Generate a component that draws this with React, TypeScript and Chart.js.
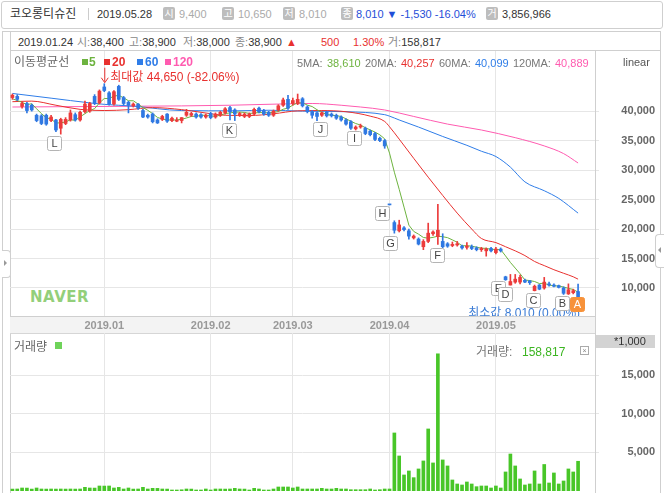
import React, { useEffect, useRef } from 'react';
import { Chart, registerables } from 'chart.js';
Chart.register(...registerables);

// ---------- data ----------
const decDays = [3, 4, 5, 6, 7, 10, 11, 12, 13, 14, 17, 18, 19, 20, 21, 24, 26, 27, 28];
const janDays = [2, 3, 4, 7, 8, 9, 10, 11, 14, 15, 16, 17, 18, 21, 22, 23, 24, 25, 28, 29, 30, 31];
const febDays = [1, 7, 8, 11, 12, 13, 14, 15, 18, 19, 20, 21, 22, 25, 26, 27, 28];
const marDays = [4, 5, 6, 7, 8, 11, 12, 13, 14, 15, 18, 19, 20, 21, 22, 25, 26, 27, 28, 29];
const aprDays = [1, 2, 3, 4, 5, 8, 9, 10, 11, 12, 15, 16, 17, 18, 19, 22, 23, 24, 25, 26, 29, 30];
const mayDays = [2, 3, 7, 8, 9, 10, 13, 14, 15, 16, 17, 20, 21, 22, 23, 24, 27, 28];

const opens = [
  42300, 42500, 40800, 41300, 41000, 39300, 39200, 39300, 38400, 38500,
  37100, 37900, 38500, 39400, 38500, 39900, 40000, 42500, 41400, 44100,
  43100, 41200, 44200, 42300, 41500, 40900, 41200, 40100, 39300, 39500,
  38500, 38600, 39500, 38400, 38300, 38400, 39300, 39300, 39500, 39400,
  39000, 39600, 39000, 39300, 39700, 40600, 40200, 39300, 39100, 39100,
  39500, 40500, 40100, 39800, 39300, 40200, 41000, 42000, 41300, 41300,
  42100, 40700, 39900, 39700, 39300, 39800, 39500, 39300, 39000, 38500,
  38200, 37000, 37300, 37100, 36600, 36200, 35400, 35000, 24150, 21100,
  19700, 20200, 19700, 18500, 18300, 17000, 17900, 19200, 18700, 17900,
  17500, 17200, 17300, 17100, 16900, 17000, 16800, 16500, 16300, 16700,
  16000, 16600, 11900, 10500, 11000, 11000, 11300, 11200, 9550, 10500,
  10000, 10700, 10500, 10400, 10000, 9000, 9200, 9400,
];
const highs = [
  42900, 42800, 41600, 41500, 41200, 39500, 39400, 39500, 39300, 38600,
  38800, 38900, 40200, 39700, 40000, 41700, 41500, 42800, 43600, 44650,
  43300, 43500, 44400, 42500, 41700, 41400, 41300, 40300, 39500, 39700,
  38700, 39300, 39600, 39000, 38900, 38900, 40300, 39800, 39700, 39600,
  39500, 39800, 39700, 40000, 40600, 40800, 40400, 39800, 39700, 39700,
  40500, 40700, 40300, 40000, 40200, 41100, 42200, 42700, 42200, 42900,
  42300, 40900, 40100, 39900, 39900, 40000, 39700, 39500, 39200, 38700,
  38400, 37500, 37800, 37300, 36800, 36400, 35600, 35200, 24150, 21400,
  21500, 20400, 20000, 19000, 18500, 18200, 21000, 19700, 24200, 19200,
  17700, 17800, 17900, 17300, 17700, 17300, 17000, 16900, 16800, 16900,
  16900, 16800, 12000, 12300, 12300, 12200, 11500, 11300, 10500, 10600,
  11800, 11000, 10700, 10500, 10200, 10700, 9800, 10650,
];
const lows = [
  42000, 41800, 40500, 39700, 40000, 38200, 37700, 37600, 38200, 36500,
  36100, 37700, 38300, 38300, 38300, 39700, 39800, 41100, 41200, 43300,
  41000, 41000, 41800, 41100, 39700, 40700, 40300, 38900, 38800, 38000,
  37900, 38400, 38100, 38200, 38200, 38000, 39100, 39100, 38800, 38800,
  38800, 38700, 38800, 39100, 39500, 38500, 38400, 39100, 38900, 38900,
  39300, 39700, 39300, 39100, 39100, 40000, 40800, 40300, 41000, 41100,
  40700, 39700, 38800, 38400, 39100, 39000, 39000, 38600, 38300, 37600,
  36900, 36800, 37100, 36000, 35800, 35000, 34800, 33700, 24100, 19300,
  19500, 19700, 18300, 18300, 17300, 16500, 17700, 18900, 17400, 16800,
  16900, 17000, 17100, 16600, 16600, 16500, 16300, 16200, 15400, 16100,
  15800, 16100, 11300, 10500, 10800, 10700, 10900, 10600, 9500, 9700,
  9800, 10300, 10200, 10000, 8900, 8900, 9000, 8010,
];
const closes = [
  42700, 42000, 41300, 40100, 40200, 38400, 37900, 37800, 39000, 36800,
  38600, 38600, 39700, 38500, 39800, 41200, 41300, 41300, 43400, 43500,
  41200, 43300, 42000, 41300, 41000, 41200, 40500, 39000, 39000, 38200,
  38000, 39100, 38300, 38800, 38400, 38900, 39800, 39600, 39000, 39000,
  39300, 38900, 39500, 39800, 40400, 39900, 39500, 39600, 39500, 39500,
  40300, 39900, 39500, 39300, 40000, 40900, 41900, 40500, 41800, 42000,
  40900, 39900, 39300, 39100, 39700, 39200, 39200, 38800, 38500, 37800,
  37100, 37300, 37500, 36200, 36000, 35200, 35000, 34100, 24100, 19800,
  20700, 19900, 18800, 18800, 17450, 17900, 19300, 19500, 19800, 17000,
  17100, 17400, 17500, 16800, 17100, 16700, 16500, 16700, 16600, 16300,
  16600, 16300, 11400, 11100, 11500, 11800, 11000, 10900, 10300, 9800,
  11000, 10500, 10300, 10100, 9100, 9700, 9540, 8010,
];
// volume, thousands of shares
const volumes = [
  250, 260, 390, 380, 250, 390, 260, 250, 260, 250,
  260, 250, 260, 250, 260, 480, 390, 380, 650, 640,
  650, 390, 470, 260, 390, 250, 260, 480, 260, 350,
  340, 260, 250, 130, 130, 159, 260, 250, 130, 130,
  260, 130, 260, 260, 250, 260, 350, 260, 250, 130,
  350, 260, 130, 130, 260, 520, 520, 520, 390, 520,
  260, 260, 260, 260, 350, 260, 260, 350, 260, 260,
  170, 170, 170, 170, 260, 130, 170, 260, 260, 7530,
  4545, 2080, 2600, 1730, 2860, 3900, 8050, 3640, 17800, 4030,
  3250, 1430, 910, 780, 1170, 910, 560, 650, 650, 390,
  650, 390, 2470, 4800, 3250, 1560, 780, 910, 2600, 910,
  3440, 1040, 2340, 910, 1300, 2860, 2470, 3857,
];
const ma5 = [
  42100, 41800, 41500, 41100, 41260, 40400, 39580, 38880, 38660, 37980,
  38020, 38160, 38540, 38440, 39040, 39560, 40100, 40420, 41400, 42140,
  42140, 42540, 42680, 42260, 41760, 41760, 41200, 40600, 40140, 39580,
  38940, 38660, 38520, 38480, 38520, 38610, 38840, 39100, 39140, 39260,
  39340, 39160, 39140, 39300, 39580, 39700, 39820, 39840, 39780, 39600,
  39680, 39760, 39740, 39700, 39800, 39920, 40320, 40520, 41020, 41420,
  41420, 41020, 40780, 40240, 39780, 39440, 39300, 39240, 39080, 38700,
  38280, 37900, 37640, 37180, 36820, 36440, 35980, 35300, 32880, 29640,
  26740, 23720, 20660, 19600, 19130, 18570, 18450, 18590, 18790, 18700,
  18540, 18160, 17760, 17160, 17180, 17100, 16920, 16760, 16720, 16560,
  16540, 16500, 15440, 14340, 13380, 12420, 11360, 11260, 11100, 10760,
  10800, 10500, 10380, 10340, 10160, 9940, 9750, 9290,
];
// [candle index, value]
const ma20Pts = [
  [0, 41600], [4, 41700], [9, 41000], [14, 40300], [19, 40100], [24, 40250], [29, 40600],
  [35, 40257], [39, 39800], [44, 39300], [49, 39250], [54, 39550], [59, 40050], [64, 40100],
  [69, 39900], [74, 39150], [77, 38250], [78, 37350], [80, 35250], [83, 32000], [86, 28800],
  [89, 25700], [92, 22700], [95, 20000], [97, 18400], [100, 17700], [102, 17000], [104, 16300],
  [106, 15500], [108, 14500], [110, 13800], [112, 13100], [114, 12500], [116, 11900], [117, 11500],
];
const ma60Pts = [
  [0, 43000], [8, 42200], [16, 41400], [19, 41150], [25, 40850], [35, 40099], [46, 40050],
  [53, 40150], [60, 40000], [69, 39900], [77, 39400], [78, 39150], [80, 38500], [84, 37300],
  [89, 35700], [94, 34200], [97, 33200], [100, 32300], [103, 30500], [106, 28000],
  [110, 26500], [113, 25200], [117, 22700],
];
const ma120Pts = [
  [0, 40700], [10, 40750], [20, 40800], [35, 40889], [45, 41000], [55, 41200], [62, 41300],
  [68, 41000], [72, 40700], [77, 40200], [83, 39100], [90, 37800], [97, 36800], [104, 35500],
  [110, 34100], [114, 32800], [117, 31200],
];
const priceTicks = [10000, 15000, 20000, 25000, 30000, 35000, 40000];
const volumeTicks = [5000, 10000, 15000];
const markers = [
  { label: 'L', index: 8.6, price: 34600 },
  { label: 'K', index: 44.8, price: 36780 },
  { label: 'J', index: 63.6, price: 36950 },
  { label: 'I', index: 70.6, price: 35420 },
  { label: 'H', index: 76.4, price: 22710 },
  { label: 'G', index: 78, price: 17630 },
  { label: 'F', index: 87.8, price: 15590 },
  { label: 'E', index: 100.4, price: 9950 },
  { label: 'D', index: 101.8, price: 8900 },
  { label: 'C', index: 107.7, price: 7970 },
  { label: 'B', index: 113.7, price: 7460 },
  { label: 'A', index: 116.8, price: 7370, active: true },
];
const maxIndex = 19;
const maxPrice = 44650;
const minIndex = 117;
const minPrice = 8010;
const emptySlots = 3;

// ---------- derived ----------
const pad2 = (n: number) => (n < 10 ? '0' + n : '' + n);
const dates: string[] = [
  ...decDays.map((d) => `2018.12.${pad2(d)}`),
  ...janDays.map((d) => `2019.01.${pad2(d)}`),
  ...febDays.map((d) => `2019.02.${pad2(d)}`),
  ...marDays.map((d) => `2019.03.${pad2(d)}`),
  ...aprDays.map((d) => `2019.04.${pad2(d)}`),
  ...mayDays.map((d) => `2019.05.${pad2(d)}`),
];
const labels = [...dates, ...Array.from({ length: emptySlots }, (_, k) => ' '.repeat(k + 1))];
const monthLabel = (i: number) =>
  i > 0 && i < dates.length && dates[i].slice(0, 7) !== dates[i - 1].slice(0, 7) ? dates[i].slice(0, 7) : '';
const sparse = (pts: number[][]) => {
  const arr: (number | null)[] = dates.map(() => null);
  pts.forEach(([i, v]) => (arr[i] = v));
  return arr;
};
const fmt = (v: number) => v.toLocaleString('en-US');

const RED = '#ec3b3b';
const BLUE = '#2f78e2';
const C5 = '#6db33f';
const C20 = '#e8312f';
const C60 = '#2f7de8';
const C120 = '#ff5bb0';
const VOL = '#48c628';
const GRID = '#e6e6e6';
const NUMFONT = "'Liberation Sans', Arial, sans-serif";
const KFONT = "'Liberation Sans', 'Noto Sans CJK KR', sans-serif";

const candleColors = closes.map((c, i) =>
  c > opens[i] ? RED : c < opens[i] ? BLUE : i > 0 && c >= closes[i - 1] ? RED : BLUE
);

const gridColor = (ctx: any) => (monthLabel(ctx.index) ? GRID : 'rgba(0,0,0,0)');
const fitX = (h: number) => (s: any) => {
  s.height = h;
  s.paddingLeft = 0;
  s.paddingRight = 0;
  s.paddingTop = 0;
  s.paddingBottom = 0;
};
const fitY = (s: any) => {
  s.width = 60;
  s.paddingLeft = 0;
  s.paddingRight = 0;
  s.paddingTop = 0;
  s.paddingBottom = 0;
};

const annotationPlugin = {
  id: 'annots',
  afterDatasetsDraw(chart: any) {
    const { ctx, chartArea, scales } = chart;
    const xs = scales.x;
    const ys = scales.y;
    ctx.save();
    ctx.beginPath();
    ctx.rect(chartArea.left, chartArea.top, chartArea.right - chartArea.left, chartArea.bottom - chartArea.top);
    ctx.clip();
    // max label
    const mx = xs.getPixelForValue(maxIndex);
    const my = ys.getPixelForValue(maxPrice);
    ctx.strokeStyle = C20;
    ctx.fillStyle = C20;
    ctx.lineWidth = 1;
    ctx.beginPath();
    ctx.moveTo(mx + 0.5, my - 16);
    ctx.lineTo(mx + 0.5, my - 2);
    ctx.stroke();
    ctx.beginPath();
    ctx.moveTo(mx - 3, my - 6);
    ctx.lineTo(mx + 0.5, my - 1);
    ctx.lineTo(mx + 4, my - 6);
    ctx.stroke();
    ctx.font = `12px ${KFONT}`;
    ctx.textBaseline = 'middle';
    ctx.textAlign = 'left';
    ctx.fillText(`최대값 ${fmt(maxPrice)} (-82.06%)`, mx + 6, my - 6);
    // min label
    const nx = xs.getPixelForValue(minIndex);
    const ny = ys.getPixelForValue(minPrice);
    ctx.fillStyle = '#3a7bd5';
    ctx.textAlign = 'right';
    ctx.fillText(`최소값 ${fmt(minPrice)} (0.00%)`, nx + 2, ny + 14);
    // markers
    ctx.font = `11px ${KFONT}`;
    ctx.textAlign = 'center';
    markers.forEach((m) => {
      const x = xs.getPixelForValue(m.index);
      const y = ys.getPixelForValue(m.price);
      const w = 14;
      const h = 14;
      const bx = Math.round(x - w / 2) + 0.5;
      const by = Math.round(y - h / 2) + 0.5;
      ctx.beginPath();
      if (ctx.roundRect) ctx.roundRect(bx, by, w, h, 2);
      else ctx.rect(bx, by, w, h);
      ctx.fillStyle = m.active ? '#f7923a' : '#ffffff';
      ctx.fill();
      ctx.strokeStyle = m.active ? '#f7923a' : '#b4b4b4';
      ctx.stroke();
      ctx.fillStyle = m.active ? '#ffffff' : '#444';
      ctx.fillText(m.label, bx + w / 2, by + h / 2 + 0.5);
    });
    ctx.restore();
  },
};

function PriceChart() {
  const ref = useRef<HTMLCanvasElement>(null);
  useEffect(() => {
    if (!ref.current) return;
    const chart = new Chart(ref.current, {
      type: 'bar',
      data: {
        labels,
        datasets: [
          {
            type: 'line',
            data: sparse(ma120Pts),
            borderColor: C120,
            borderWidth: 1,
            pointRadius: 0,
            spanGaps: true,
            cubicInterpolationMode: 'monotone',
            order: 6,
          } as any,
          {
            type: 'line',
            data: sparse(ma60Pts),
            borderColor: C60,
            borderWidth: 1,
            pointRadius: 0,
            spanGaps: true,
            cubicInterpolationMode: 'monotone',
            order: 5,
          },
          {
            type: 'line',
            data: sparse(ma20Pts),
            borderColor: C20,
            borderWidth: 1,
            pointRadius: 0,
            spanGaps: true,
            cubicInterpolationMode: 'monotone',
            order: 4,
          },
          {
            type: 'line',
            data: ma5,
            borderColor: C5,
            borderWidth: 1,
            pointRadius: 0,
            order: 3,
          },
          {
            type: 'bar',
            data: lows.map((l, i) => [l, highs[i]]),
            backgroundColor: candleColors,
            barThickness: 1,
            grouped: false,
            order: 2,
          } as any,
          {
            type: 'bar',
            data: opens.map((o, i) => [Math.min(o, closes[i]), Math.max(o, closes[i])]),
            backgroundColor: candleColors,
            barThickness: 3,
            minBarLength: 1,
            grouped: false,
            order: 1,
          } as any,
        ],
      },
      options: {
        animation: false,
        responsive: false,
        maintainAspectRatio: false,
        events: [],
        layout: { padding: 0 },
        plugins: { legend: { display: false }, tooltip: { enabled: false } },
        scales: {
          x: {
            type: 'category',
            offset: true,
            grid: { offset: false, color: gridColor, drawTicks: false },
            border: { display: true, color: '#cfcfcf' },
            ticks: {
              autoSkip: false,
              maxRotation: 0,
              minRotation: 0,
              padding: 3,
              color: '#999',
              font: { family: NUMFONT, size: 11, weight: 'bold' },
              callback: (_v: any, i: number) => monthLabel(i),
            },
            afterFit: fitX(17),
          },
          y: {
            type: 'linear',
            position: 'right',
            min: 5250,
            max: 50200,
            afterBuildTicks: (s: any) => {
              s.ticks = priceTicks.map((v) => ({ value: v }));
            },
            afterFit: fitY,
            grid: { color: GRID, drawTicks: true, tickLength: 4 },
            border: { display: true, color: '#cfcfcf' },
            ticks: {
              crossAlign: 'far',
              padding: 16,
              color: '#666',
              font: { family: NUMFONT, size: 11, weight: 'bold' },
              callback: (v: any) => fmt(Number(v)),
            },
          },
        },
      } as any,
      plugins: [annotationPlugin],
    });
    return () => chart.destroy();
  }, []);
  return (
    <canvas
      ref={ref}
      width={645}
      height={282}
      style={{ position: 'absolute', left: 10, top: 51, width: 645, height: 282 }}
    />
  );
}

function VolumeChart() {
  const ref = useRef<HTMLCanvasElement>(null);
  useEffect(() => {
    if (!ref.current) return;
    const chart = new Chart(ref.current, {
      type: 'bar',
      data: {
        labels,
        datasets: [
          {
            data: volumes,
            backgroundColor: VOL,
            barThickness: 3,
          },
        ],
      },
      options: {
        animation: false,
        responsive: false,
        maintainAspectRatio: false,
        events: [],
        layout: { padding: 0 },
        plugins: { legend: { display: false }, tooltip: { enabled: false } },
        scales: {
          x: {
            type: 'category',
            offset: true,
            grid: { offset: false, color: gridColor, drawTicks: false },
            border: { display: false },
            ticks: { display: false },
            afterFit: fitX(0),
          },
          y: {
            type: 'linear',
            position: 'right',
            min: 0,
            max: 20500,
            afterBuildTicks: (s: any) => {
              s.ticks = volumeTicks.map((v) => ({ value: v }));
            },
            afterFit: fitY,
            grid: { color: GRID, drawTicks: true, tickLength: 4 },
            border: { display: true, color: '#cfcfcf' },
            ticks: {
              crossAlign: 'far',
              padding: 16,
              color: '#666',
              font: { family: NUMFONT, size: 11, weight: 'bold' },
              callback: (v: any) => fmt(Number(v)),
            },
          },
        },
      } as any,
    });
    return () => chart.destroy();
  }, []);
  return (
    <canvas
      ref={ref}
      width={645}
      height={158}
      style={{ position: 'absolute', left: 10, top: 333, width: 645, height: 158 }}
    />
  );
}

const abs = (s: React.CSSProperties): React.CSSProperties => ({ position: 'absolute', ...s });
const T = (props: { x: number; y: number; c?: string; s?: number; b?: boolean; children: any; f?: string }) => (
  <div
    style={abs({
      left: props.x,
      top: props.y - 8,
      height: 16,
      lineHeight: '16px',
      fontSize: props.s || 11,
      fontWeight: props.b ? 'bold' : 'normal',
      color: props.c || '#333',
      whiteSpace: 'nowrap',
      fontFamily: props.f || KFONT,
    })}
  >
    {props.children}
  </div>
);
const Icon = ({ x, ch }: { x: number; ch: string }) => (
  <div
    style={abs({
      left: x,
      top: 7,
      width: 12,
      height: 13,
      background: '#bdbdbd',
      borderRadius: 2,
      color: '#fff',
      fontSize: 10,
      lineHeight: '13px',
      textAlign: 'center',
      fontFamily: KFONT,
    })}
  >
    {ch}
  </div>
);

export default function App() {
  return (
    <div
      style={abs({
        left: 0,
        top: 0,
        width: 664,
        height: 493,
        background: '#fff',
        overflow: 'hidden',
        fontFamily: KFONT,
      })}
    >
      {/* header */}
      <div style={abs({ left: 1, top: 1, width: 660, height: 26, border: '1px solid #cfcfcf', borderRadius: 3 })} />
      <T x={10} y={14} s={12} c="#333">코오롱티슈진</T>
      <div style={abs({ left: 88, top: 8, width: 1, height: 12, background: '#ccc' })} />
      <T x={97} y={14} s={11} c="#333">2019.05.28</T>
      <Icon x={163} ch="시" />
      <T x={179} y={14} s={11} c="#aaa">9,400</T>
      <Icon x={222} ch="고" />
      <T x={238} y={14} s={11} c="#aaa">10,650</T>
      <Icon x={283} ch="저" />
      <T x={299} y={14} s={11} c="#aaa">8,010</T>
      <Icon x={341} ch="종" />
      <T x={356} y={14} s={11} c="#1f4ed8">8,010 ▼ -1,530 -16.04%</T>
      <Icon x={486} ch="거" />
      <T x={502} y={14} s={11} c="#333">3,856,966</T>

      {/* frame */}
      <div style={abs({ left: 2, top: 31, width: 1, height: 470, background: '#cfcfcf' })} />
      <div style={abs({ left: 2, top: 31, width: 658, height: 1, background: '#cfcfcf' })} />
      <div style={abs({ left: 660, top: 31, width: 1, height: 470, background: '#cfcfcf' })} />
      <div style={abs({ left: 10, top: 31, width: 1, height: 470, background: '#cfcfcf' })} />
      <div style={abs({ left: 10, top: 50, width: 650, height: 1, background: '#cfcfcf' })} />
      <div style={abs({ left: 595, top: 50, width: 1, height: 450, background: '#cfcfcf' })} />

      {/* info bar */}
      <T x={18} y={42} c="#333">2019.01.24</T>
      <T x={77} y={42}><span style={{ color: '#888' }}>시:</span>38,400</T>
      <T x={129} y={42}><span style={{ color: '#888' }}>고:</span>38,900</T>
      <T x={183} y={42}><span style={{ color: '#888' }}>저:</span>38,000</T>
      <T x={235} y={42}><span style={{ color: '#888' }}>종:</span>38,900</T>
      <T x={286} y={42} c="#e8312f">▲</T>
      <T x={321} y={42} c="#e8312f">500</T>
      <T x={353} y={42} c="#e8312f">1.30%</T>
      <T x={388} y={42}><span style={{ color: '#888' }}>거:</span>158,817</T>

      {/* x label band */}
      <div style={abs({ left: 10, top: 316, width: 585, height: 17, background: '#f3f3f3', borderBottom: '1px solid #d6d6d6' })} />

      {/* watermark */}
      <div style={abs({ left: 30, top: 288, fontSize: 15, fontWeight: 'bold', color: '#93cf7a', fontFamily: "'DejaVu Sans', sans-serif", letterSpacing: 0.5 })}>NAVER</div>

      <PriceChart />
      <VolumeChart />

      {/* price legends */}
      <T x={14} y={62} s={12} c="#666">이동평균선</T>
      <div style={abs({ left: 82, top: 59, width: 6, height: 6, background: C5 })} />
      <T x={89} y={62} s={12} b c={C5}>5</T>
      <div style={abs({ left: 104, top: 59, width: 6, height: 6, background: C20 })} />
      <T x={112} y={62} s={12} b c={C20}>20</T>
      <div style={abs({ left: 137, top: 59, width: 6, height: 6, background: C60 })} />
      <T x={145} y={62} s={12} b c={C60}>60</T>
      <div style={abs({ left: 165, top: 59, width: 6, height: 6, background: C120 })} />
      <T x={173} y={62} s={12} b c={C120}>120</T>

      <T x={297} y={63} c="#777">5MA:</T>
      <T x={327} y={63} c={C5}>38,610</T>
      <T x={365} y={63} c="#777">20MA:</T>
      <T x={401} y={63} c={C20}>40,257</T>
      <T x={439} y={63} c="#777">60MA:</T>
      <T x={475} y={63} c={C60}>40,099</T>
      <T x={513} y={63} c="#777">120MA:</T>
      <T x={555} y={63} c={C120}>40,889</T>
      <T x={623} y={62} c="#555">linear</T>

      {/* volume legend */}
      <T x={14} y={347} s={12} c="#666">거래량</T>
      <div style={abs({ left: 55, top: 342, width: 7, height: 7, background: '#6fd35a' })} />
      <T x={476} y={352} s={12} c="#777">거래량:</T>
      <T x={522} y={352} s={12} c="#3cb521">158,817</T>
      <div style={abs({ left: 580, top: 346, width: 7, height: 7, border: '1px solid #aaa', fontSize: 7, lineHeight: '7px', color: '#888', textAlign: 'center' })}>×</div>
      <div style={abs({ left: 596, top: 335, width: 59, height: 13, background: '#d3d3d3' })} />
      <T x={614} y={341} c="#333">*1,000</T>

      {/* side handles */}
      <div style={abs({ left: 2, top: 250, width: 8, height: 26, border: '1px solid #cfcfcf', borderLeft: 'none', borderRadius: '0 4px 4px 0', background: '#fff' })} />
      <div style={abs({ left: 4, top: 260, width: 0, height: 0, borderTop: '3px solid transparent', borderBottom: '3px solid transparent', borderLeft: '3px solid #999' })} />
      <div style={abs({ left: 655, top: 234, width: 8, height: 32, border: '1px solid #cfcfcf', borderRight: 'none', borderRadius: '4px 0 0 4px', background: '#fff' })} />
      <div style={abs({ left: 658, top: 247, width: 0, height: 0, borderTop: '3px solid transparent', borderBottom: '3px solid transparent', borderRight: '3px solid #999' })} />
    </div>
  );
}
